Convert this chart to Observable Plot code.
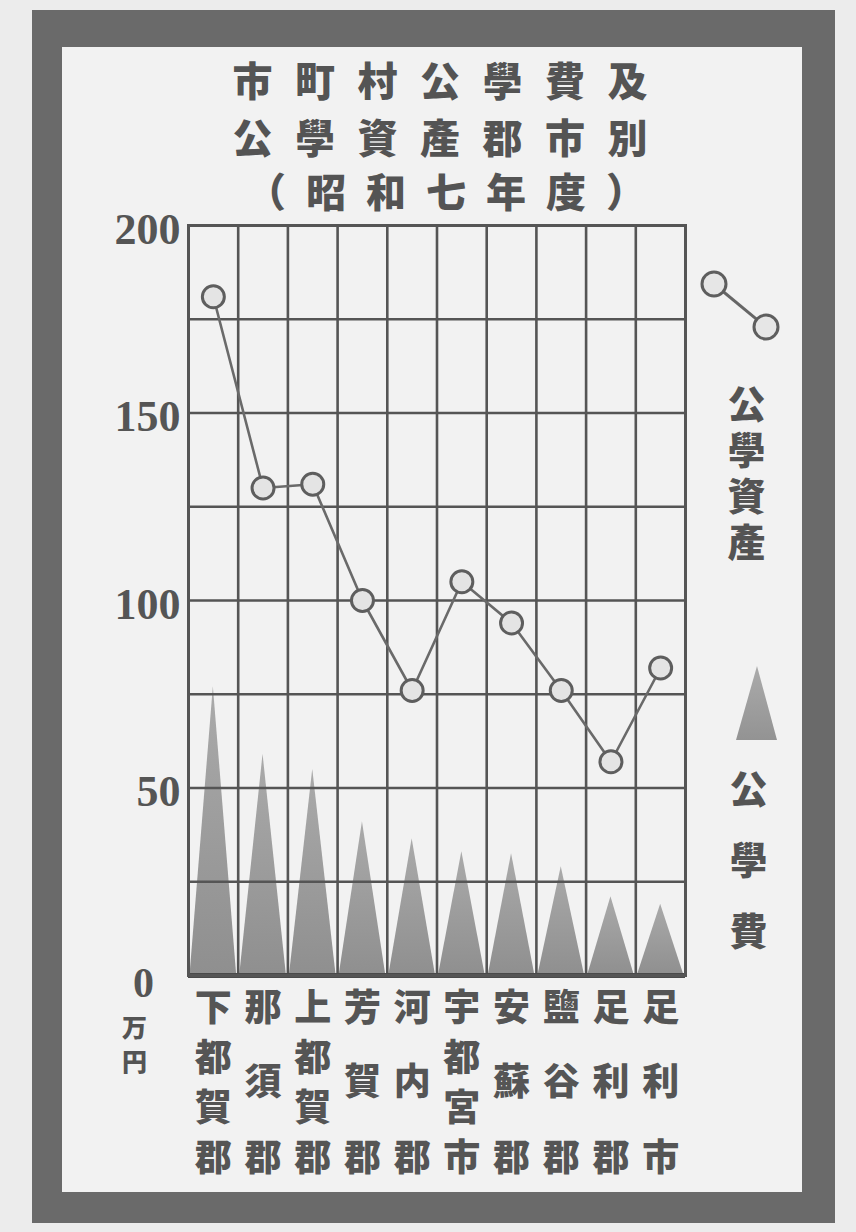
<!DOCTYPE html>
<html>
<head>
<meta charset="utf-8">
<script src="https://cdn.jsdelivr.net/npm/d3@7"></script>
<script src="https://cdn.jsdelivr.net/npm/@observablehq/plot@0.6"></script>
<style>
  html, body { margin: 0; padding: 0; }
  body { width: 856px; height: 1232px; background: #ececec; position: relative; overflow: hidden;
         font-family: "Noto Sans CJK JP", "Noto Sans CJK TC", sans-serif; color: #545454; }
  #frame { position: absolute; left: 32px; top: 10px; width: 803px; height: 1213px; box-sizing: border-box;
           border-style: solid; border-color: #6a6a6a; border-width: 37px 33px 31px 30px; background: #f2f2f2; }
  .title { position: absolute; font-weight: 900; font-size: 40px; line-height: 1; white-space: nowrap;
           letter-spacing: 22.5px; transform: translateX(-50%); text-indent: 22.5px; }
  #chart { position: absolute; left: 0; top: 200px; }
  .vert { position: absolute; writing-mode: vertical-rl; font-weight: 900; line-height: 1; transform: translateX(-50%); }
  #unit { position: absolute; font-weight: 900; font-size: 25px; line-height: 1.35; left: 122px; top: 1010px; }
  .icon { position: absolute; }
</style>
</head>
<body>
<div id="frame"></div>
<div class="title" style="left:440px; top:59px;">市町村公學費及</div>
<div class="title" style="left:440px; top:116px;">公學資產郡市別</div>
<div class="title" style="left:446px; top:170px; letter-spacing:20px; text-indent:20px;">（昭和七年度）</div>
<div id="chart"></div>
<div id="unit">万<br>円</div>
<svg class="icon" style="left:690px; top:260px;" width="100" height="95">
  <line x1="24" y1="24" x2="76" y2="67" stroke="#666" stroke-width="3"/>
  <circle cx="24" cy="24" r="12" fill="#e6e6e6" stroke="#5e5e5e" stroke-width="3"/>
  <circle cx="76" cy="67" r="12" fill="#e6e6e6" stroke="#5e5e5e" stroke-width="3"/>
</svg>
<div class="vert" style="left:746px; top:385px; font-size:38px; letter-spacing:8px;">公學資產</div>
<svg class="icon" style="left:730px; top:660px;" width="52" height="85">
  <defs><linearGradient id="lg" x1="0" y1="0" x2="0" y2="1">
    <stop offset="0" stop-color="#ababab"/><stop offset="1" stop-color="#939393"/></linearGradient></defs>
  <polygon points="27,6 6,80 47,80" fill="url(#lg)"/>
</svg>
<div class="vert" style="left:748px; top:770px; font-size:38px; letter-spacing:33px;">公學費</div>
<script>
// ---- data (unit: 万円) ----
const districts = ["下都賀郡","那須郡","上都賀郡","芳賀郡","河内郡","宇都宮市","安蘇郡","鹽谷郡","足利郡","足利市"];
const assets   = [181, 130, 131, 100, 76, 105, 94, 76, 57, 82];   // 公學資產
const expenses = [77, 59, 55, 41, 36.5, 33, 32.5, 29, 21, 19];     // 公學費
const yTicks = [0, 50, 100, 150, 200];
const yGrid = [0, 25, 50, 75, 100, 125, 150, 175, 200];

const ink = "#555";
const rows = districts.map((d, i) => ({ name: d, i, asset: assets[i], expense: expenses[i] }));

// triangles: one per district, apex at the district's value
const tri = rows.flatMap(r => [
  { name: r.name, x: r.i + 0.03, y: 0 },
  { name: r.name, x: r.i + 0.5, y: r.expense },
  { name: r.name, x: r.i + 0.97, y: 0 }
]);

// vertical labels: 4 chars on 4 rows; 3 chars with the middle one centred
const labelChars = rows.flatMap(r => {
  const chars = Array.from(r.name);
  const pos = chars.length === 4 ? [0, 1, 2, 3] : [0, 1.5, 3];
  return chars.map((c, k) => ({ i: r.i, c, row: pos[k] }));
});

const rowDy = [34, 84, 134, 184];
const labelMarks = [0, 1.5, 1, 2, 3].map(rw => {
  const dy = rw === 1.5 ? 108 : rowDy[rw];
  return Plot.text(labelChars.filter(d => d.row === rw), {
    x: d => d.i + 0.5, text: "c", frameAnchor: "bottom", dy,
    fontSize: 37, fontWeight: 900, fill: ink, lineAnchor: "middle",
    fontFamily: "Noto Sans CJK JP"
  });
});

const chart = Plot.plot({
  width: 856, height: 1000,
  marginLeft: 188, marginRight: 171, marginTop: 25, marginBottom: 225,
  style: { background: "transparent", overflow: "visible" },
  x: { type: "linear", domain: [0, districts.length], axis: null },
  y: { domain: [0, 200], axis: null },
  marks: [
    Plot.areaY(tri, { x: "x", y: "y", z: "name", fill: "url(#triGrad)" }),
    Plot.ruleY(yGrid, { stroke: ink, strokeWidth: 2.6 }),
    Plot.ruleX(d3.range(districts.length + 1), { stroke: ink, strokeWidth: 2.6 }),
    Plot.ruleY([0], { stroke: "#4a4a4a", strokeWidth: 5 }),
    Plot.frame({ stroke: ink, strokeWidth: 3 }),
    Plot.line(rows, { x: d => d.i + 0.5, y: "asset", stroke: "#6a6a6a", strokeWidth: 2.6 }),
    Plot.dot(rows, { x: d => d.i + 0.5, y: "asset", r: 11, fill: "#e4e4e4", stroke: "#5e5e5e", strokeWidth: 3 }),
    Plot.text(yTicks.filter(t => t > 0), {
      y: d => d, text: d => String(d), frameAnchor: "left", textAnchor: "end", dx: -8, dy: 4,
      fontSize: 44, fontWeight: "bold", fontFamily: "Liberation Serif", fill: ink
    }),
    Plot.text(yTicks.filter(t => t === 0), {
      y: d => d, text: d => String(d), frameAnchor: "left", textAnchor: "middle", dx: -45, dy: 8,
      fontSize: 42, fontWeight: "bold", fontFamily: "Liberation Serif", fill: ink
    }),
    ...labelMarks
  ]
});

// gradient for the triangles
const ns = "http://www.w3.org/2000/svg";
const defs = document.createElementNS(ns, "defs");
defs.innerHTML = '<linearGradient id="triGrad" x1="0" y1="0" x2="0" y2="1" gradientUnits="objectBoundingBox">' +
  '<stop offset="0" stop-color="#aaaaaa"/><stop offset="1" stop-color="#8f8f8f"/></linearGradient>';
chart.insertBefore(defs, chart.firstChild);

document.getElementById("chart").appendChild(chart);
</script>
</body>
</html>
